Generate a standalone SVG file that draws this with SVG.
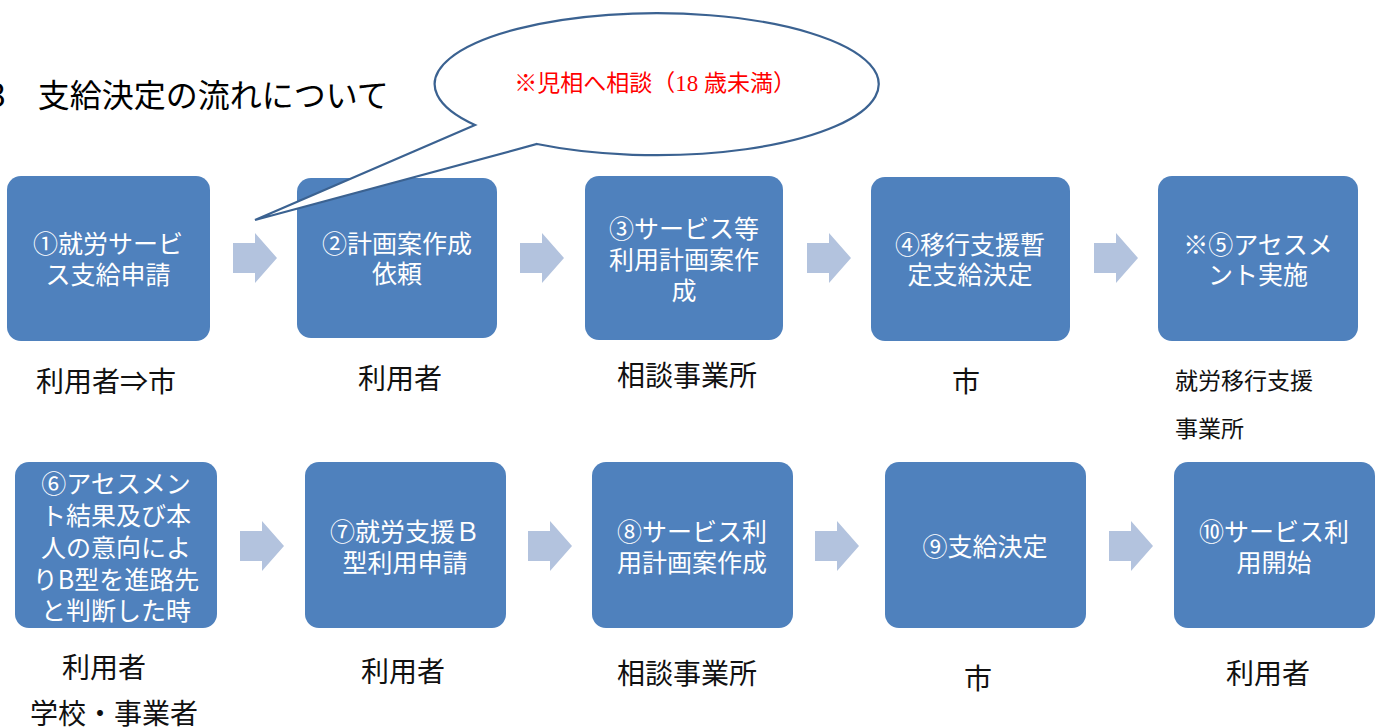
<svg xmlns="http://www.w3.org/2000/svg" width="1381" height="727" viewBox="0 0 1381 727">
<style>
.box{fill:#4f81bd;}
.bt{font-family:"Noto Sans CJK JP","Noto Sans",sans-serif;font-size:25px;fill:#ffffff;text-anchor:middle;dominant-baseline:central;}
.lb{font-family:"Noto Sans CJK JP","Noto Sans",sans-serif;font-size:28px;fill:#111111;text-anchor:middle;dominant-baseline:central;}
.lbs{font-family:"Noto Sans CJK JP","Noto Sans",sans-serif;font-size:23px;fill:#111111;dominant-baseline:central;}
.arr{fill:#b3c3de;}
.title{font-family:"Noto Sans CJK JP","Noto Sans",sans-serif;font-size:32px;fill:#000000;dominant-baseline:central;}
.call{fill:#ffffff;stroke:#3b6291;stroke-width:2.2;}
.ct{font-family:"Liberation Serif","Noto Sans CJK JP",serif;font-size:23px;fill:#ff0000;text-anchor:middle;dominant-baseline:central;}
</style>
<rect width="1381" height="727" fill="#ffffff"/>
<text class="title" x="-12" y="93">3　支給決定の流れについて</text>

<g id="connectors">
<polygon class="arr" points="233,243 255,243 255,233 277,258 255,283 255,273 233,273"/>
<polygon class="arr" points="520,243 542,243 542,233 564,258 542,283 542,273 520,273"/>
<polygon class="arr" points="807,243 829,243 829,233 851,258 829,283 829,273 807,273"/>
<polygon class="arr" points="1094,243 1116,243 1116,233 1138,258 1116,283 1116,273 1094,273"/>
<polygon class="arr" points="240,531 262,531 262,521 284,546 262,571 262,561 240,561"/>
<polygon class="arr" points="528,531 550,531 550,521 572,546 550,571 550,561 528,561"/>
<polygon class="arr" points="815,531 837,531 837,521 859,546 837,571 837,561 815,561"/>
<polygon class="arr" points="1109,531 1131,531 1131,521 1153,546 1131,571 1131,561 1109,561"/>
</g>

<g id="n1">
<rect class="box" x="7" y="176" width="203" height="165" rx="14"/>
<text class="bt" x="108" y="242">①就労サービ</text>
<text class="bt" x="108" y="273">ス支給申請</text>
<text class="lb" x="106" y="380">利用者⇒市</text>
</g>
<g id="n2">
<rect class="box" x="297" y="178" width="200" height="160" rx="14"/>
<text class="bt" x="397" y="242">②計画案作成</text>
<text class="bt" x="397" y="272">依頼</text>
<text class="lb" x="400" y="377">利用者</text>
</g>
<g id="n3">
<rect class="box" x="585" y="176" width="198" height="164" rx="14"/>
<text class="bt" x="684" y="227">③サービス等</text>
<text class="bt" x="684" y="258">利用計画案作</text>
<text class="bt" x="684" y="289">成</text>
<text class="lb" x="687" y="374">相談事業所</text>
</g>
<g id="n4">
<rect class="box" x="871" y="177" width="199" height="164" rx="14"/>
<text class="bt" x="970" y="243">④移行支援暫</text>
<text class="bt" x="970" y="273">定支給決定</text>
<text class="lb" x="966" y="380">市</text>
</g>
<g id="n5">
<rect class="box" x="1158" y="176" width="200" height="165" rx="14"/>
<text class="bt" x="1258" y="243">※⑤アセスメ</text>
<text class="bt" x="1258" y="273">ント実施</text>
<text class="lbs" x="1175" y="379">就労移行支援</text>
<text class="lbs" x="1175" y="427">事業所</text>
</g>
<g id="n6">
<rect class="box" x="15" y="462" width="202" height="166" rx="14"/>
<text class="bt" x="116" y="482">⑥アセスメン</text>
<text class="bt" x="116" y="514">ト結果及び本</text>
<text class="bt" x="116" y="546">人の意向によ</text>
<text class="bt" x="116" y="578">りB型を進路先</text>
<text class="bt" x="116" y="609">と判断した時</text>
<text class="lb" x="104" y="666">利用者</text>
<text class="lb" x="114" y="712">学校・事業者</text>
</g>
<g id="n7">
<rect class="box" x="305" y="462" width="201" height="166" rx="14"/>
<text class="bt" x="405" y="530">⑦就労支援Ｂ</text>
<text class="bt" x="405" y="561">型利用申請</text>
<text class="lb" x="403" y="670">利用者</text>
</g>
<g id="n8">
<rect class="box" x="592" y="462" width="201" height="166" rx="14"/>
<text class="bt" x="692" y="530">⑧サービス利</text>
<text class="bt" x="692" y="561">用計画案作成</text>
<text class="lb" x="687" y="672">相談事業所</text>
</g>
<g id="n9">
<rect class="box" x="885" y="462" width="201" height="166" rx="14"/>
<text class="bt" x="985" y="545">⑨支給決定</text>
<text class="lb" x="978" y="677">市</text>
</g>
<g id="n10">
<rect class="box" x="1174" y="462" width="201" height="166" rx="14"/>
<text class="bt" x="1274" y="530">⑩サービス利</text>
<text class="bt" x="1274" y="561">用開始</text>
<text class="lb" x="1268" y="672">利用者</text>
</g>

<g id="callout">
<path class="call" d="M475,125 L255,220 L537,144 A222,71 0 1 0 475,125 Z"/>
<text class="ct" x="655" y="83">※児相へ相談（18 歳未満）</text>
</g>
</svg>
